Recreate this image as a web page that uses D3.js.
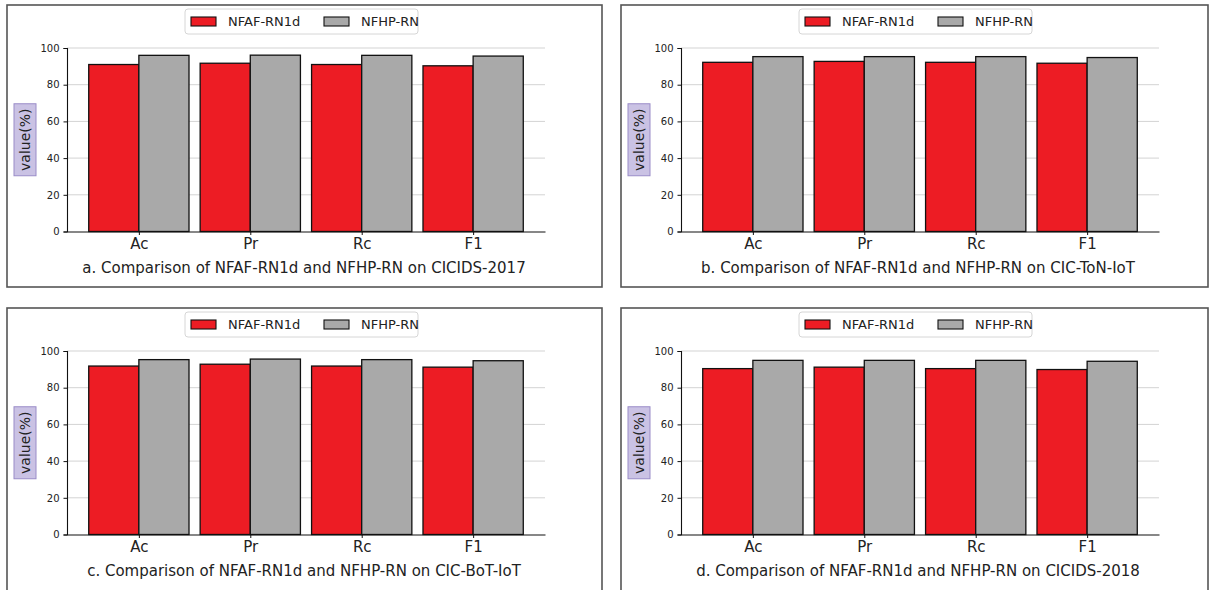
<!DOCTYPE html>
<html><head><meta charset="utf-8">
<script src="https://cdn.jsdelivr.net/npm/d3@7"></script>
<style>body{margin:0;background:#fff;} svg{display:block;font-family:"DejaVu Sans",sans-serif;}</style>
</head><body>
<svg id="c" width="1211" height="590"></svg>
<script>
const categories = ["Ac","Pr","Rc","F1"];
const seriesNames = ["NFAF-RN1d","NFHP-RN"];
const yTicks = [0,20,40,60,80,100];
const captions = [
  "a. Comparison of NFAF-RN1d and NFHP-RN on CICIDS-2017",
  "b. Comparison of NFAF-RN1d and NFHP-RN on CIC-ToN-IoT",
  "c. Comparison of NFAF-RN1d and NFHP-RN on CIC-BoT-IoT",
  "d. Comparison of NFAF-RN1d and NFHP-RN on CICIDS-2018"
];
const nfafA = [91.0, 91.7, 91.0, 90.3];
const nfhpA = [96.0, 96.1, 96.0, 95.6];
const nfafB = [92.2, 92.7, 92.2, 91.7];
const nfhpB = [95.3, 95.3, 95.3, 94.8];
const nfafC = [91.8, 92.8, 91.8, 91.2];
const nfhpC = [95.3, 95.6, 95.3, 94.7];
const nfafD = [90.4, 91.2, 90.4, 89.9];
const nfhpD = [94.9, 94.9, 94.9, 94.4];

const colors = ["#ed1c24", "#a9a9a9"];
const svg = d3.select("#c");

const panels = [
  {x:7, y:5, w:595, h:282, vals:[nfafA,nfhpA], cap:captions[0]},
  {x:621, y:5, w:587, h:282, vals:[nfafB,nfhpB], cap:captions[1]},
  {x:7, y:308, w:595, h:290, vals:[nfafC,nfhpC], cap:captions[2]},
  {x:621, y:308, w:587, h:290, vals:[nfafD,nfhpD], cap:captions[3]}
];

panels.forEach(p => {
  const g = svg.append("g").attr("transform", `translate(${p.x},${p.y})`);
  g.append("rect").attr("x",0).attr("y",0).attr("width",p.w).attr("height",p.h)
    .attr("fill","#fff").attr("stroke","#555").attr("stroke-width",1.6);

  const x = d3.scaleLinear().domain([-0.645, 3.645]).range([60, 538]);
  const y = d3.scaleLinear().domain([0, 100]).range([226.5, 43]);
  const bw = x(0.45) - x(0);

  // grid
  g.append("g").selectAll("line").data(yTicks.filter(t=>t>0)).join("line")
    .attr("x1", x.range()[0]).attr("x2", x.range()[1])
    .attr("y1", d=>y(d)).attr("y2", d=>y(d))
    .attr("stroke","#d3d3d3").attr("stroke-width",1);

  // bars
  p.vals.forEach((vals, si) => {
    g.append("g").selectAll("rect").data(vals).join("rect")
      .attr("x", (d,i) => si===0 ? x(i) - bw : x(i))
      .attr("width", bw)
      .attr("y", d => y(d))
      .attr("height", d => y(0) - y(d))
      .attr("fill", colors[si])
      .attr("stroke", "#111").attr("stroke-width", 1.3);
  });

  // y axis
  const ya = g.append("g").attr("transform", `translate(${x.range()[0]},0)`)
    .call(d3.axisLeft(y).tickValues(yTicks).tickSize(3.5).tickPadding(4));
  ya.select(".domain").attr("stroke","#111").attr("stroke-width",1.1);
  ya.selectAll(".tick line").attr("stroke","#111");
  ya.selectAll("text").attr("font-size",10).attr("fill","#222").attr("font-family","DejaVu Sans");

  // x axis
  const xa = g.append("g").attr("transform", `translate(0,${y(0)})`)
    .call(d3.axisBottom(x).tickValues(categories.map((c,i)=>i)).tickFormat(i=>categories[i]).tickSize(3.5).tickPadding(3).tickSizeOuter(0));
  xa.select(".domain").attr("stroke","#111").attr("stroke-width",1.1);
  xa.selectAll(".tick line").attr("stroke","#111");
  xa.selectAll("text").attr("font-size",15).attr("fill","#222").attr("font-family","DejaVu Sans");

  // caption
  g.append("text").attr("x", (x.range()[0]+x.range()[1])/2 - 2).attr("y", 268)
    .attr("text-anchor","middle").attr("font-size",15).attr("fill","#222").text(p.cap);

  // y label
  const lc = (y.range()[0]+y.range()[1])/2;
  const yl = g.append("g").attr("transform", `translate(18,${lc}) rotate(-90)`);
  yl.append("rect").attr("x",-36).attr("y",-11).attr("width",72).attr("height",22)
    .attr("fill","#cac2e4").attr("stroke","#9a8cc8").attr("stroke-width",1);
  yl.append("text").attr("x",0).attr("y",5).attr("text-anchor","middle")
    .attr("font-size",14).attr("fill","#222").text("value(%)");

  // legend
  const lg = g.append("g").attr("transform", `translate(178,4)`);
  lg.append("rect").attr("x",0).attr("y",0).attr("width",233).attr("height",25).attr("rx",3)
    .attr("fill","#fff").attr("stroke","#d6d6d6");
  seriesNames.forEach((n,i) => {
    const ox = 6 + i*133;
    lg.append("rect").attr("x",ox).attr("y",8).attr("width",25).attr("height",9)
      .attr("fill",colors[i]).attr("stroke","#111").attr("stroke-width",1.1);
    lg.append("text").attr("x",ox+37).attr("y",17).attr("font-size",13).attr("fill","#222").text(n);
  });
});
</script>
</body></html>
